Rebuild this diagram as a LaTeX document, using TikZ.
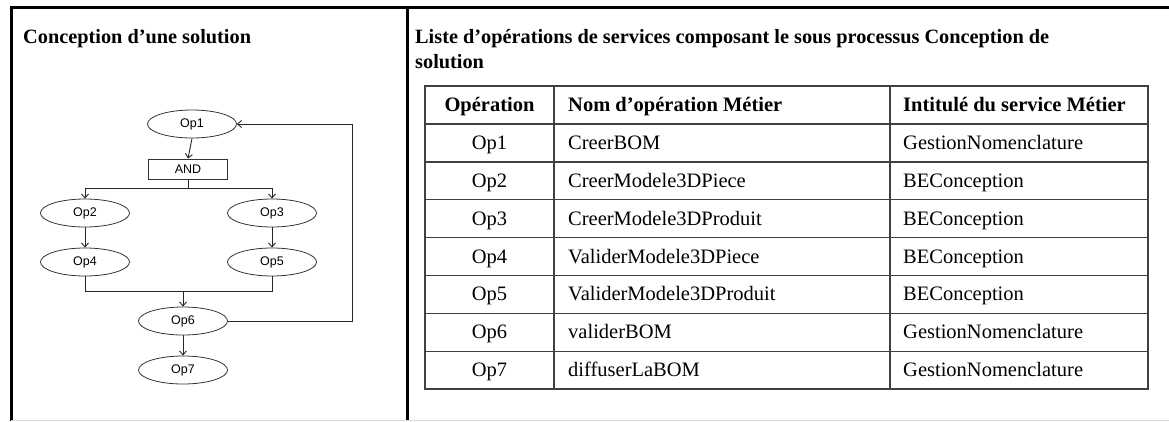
\documentclass[tikz,border=0pt]{standalone}
\usepackage{fontspec}
\setmainfont{Liberation Serif}
\newfontfamily\flowfont{Liberation Sans}
\usetikzlibrary{shapes.geometric,arrows.meta}

\begin{document}
\begin{tikzpicture}[x=1pt,y=-1pt,
  opnode/.style={ellipse,draw=black!80,line width=0.8pt,minimum width=89pt,minimum height=28pt,inner sep=0pt,font=\flowfont\fontsize{12.5}{14}\selectfont},
  gate/.style={rectangle,draw=black!80,line width=0.8pt,minimum width=79pt,minimum height=20pt,inner sep=0pt,font=\flowfont\fontsize{12.5}{14}\selectfont},
  link/.style={black!85,line width=0.9pt},
  flow/.style={link,-{Straight Barb[length=4pt,width=7pt]}},
  frame/.style={line width=3pt},
  grid/.style={black!75,line width=1.2pt},
  cell/.style={anchor=base,inner sep=0pt,font=\fontsize{20.5}{24}\selectfont},
  head/.style={cell,font=\bfseries\fontsize{20.5}{24}\selectfont},
  title/.style={anchor=base west,inner sep=0pt,font=\bfseries\fontsize{20.3}{25}\selectfont}]

\useasboundingbox (0,0) rectangle (1169,421);

% frame
\draw[frame] (11,421) -- (11,7.5) -- (1169,7.5);
\draw[frame] (407,7.5) -- (407,421);
\draw[black!15] (11,420) -- (1169,420);

% titles
\node[title] (lefttitle) at (23,43) {Conception d’une solution};
\node[title] (righttitle) at (415,43) {Liste d’opérations de services composant le sous processus Conception de};
\node[title] (righttitlecont) at (415,68) {solution};

% process
\node[opnode] (op1) at (192,124) {Op1};
\node[gate] (and) at (188,169) {AND};
\node[opnode] (op2) at (85,213) {Op2};
\node[opnode] (op3) at (272,213) {Op3};
\node[opnode] (op4) at (85,262) {Op4};
\node[opnode] (op5) at (272,262) {Op5};
\node[opnode] (op6) at (183,321) {Op6};
\node[opnode] (op7) at (183,370) {Op7};

\coordinate (split) at (188,188);
\coordinate (join) at (183,291);

\draw[flow] (op1.south) -- (and.north);
\draw[link] (and.south) -- (split);
\draw[flow] (split) -| (op2.north);
\draw[flow] (split) -| (op3.north);
\draw[flow] (op2) -- (op4);
\draw[flow] (op3) -- (op5);
\draw[link] (op4.south) |- (join);
\draw[link] (op5.south) |- (join);
\draw[flow] (join) -- (op6.north);
\draw[flow] (op6) -- (op7);
\draw[flow] (op6.east) -- ++(125,0) |- (op1.east);

% table grid
\draw[grid] (425,86) rectangle (1148,389);
\foreach \y in {124,161.9,199.7,237.6,275.4,313.3,351.2}
  \draw[grid] (425,\y) -- (1148,\y);
\draw[grid] (554,86) -- (554,389);
\draw[grid] (890,86) -- (890,389);

% header
\node[head] (hop) at (489.5,111.6) {Opération};
\node[head,anchor=base west] (hnom) at (568,111.6) {Nom d’opération Métier};
\node[head,anchor=base west] (hserv) at (903,111.6) {Intitulé du service Métier};

% rows
\foreach \op/\nom/\serv [count=\i] in {
    Op1/CreerBOM/GestionNomenclature,
    Op2/CreerModele3DPiece/BEConception,
    Op3/CreerModele3DProduit/BEConception,
    Op4/ValiderModele3DPiece/BEConception,
    Op5/ValiderModele3DProduit/BEConception,
    Op6/validerBOM/GestionNomenclature,
    Op7/diffuserLaBOM/GestionNomenclature} {
  \pgfmathsetmacro\yb{149.5+37.86*(\i-1)}
  \node[cell] (cellop\i) at (489.5,\yb) {\op};
  \node[cell,anchor=base west] (cellnom\i) at (568,\yb) {\nom};
  \node[cell,anchor=base west] (cellserv\i) at (903,\yb) {\serv};
}

\end{tikzpicture}
\end{document}
